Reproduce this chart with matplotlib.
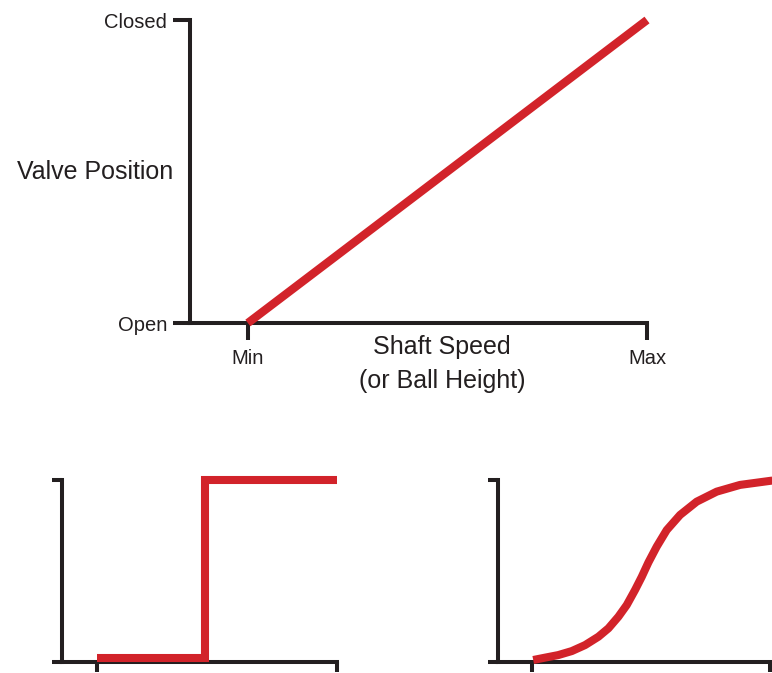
import matplotlib
matplotlib.use("Agg")
import matplotlib.pyplot as plt

plt.rcParams['font.family'] = ['Liberation Sans', 'DejaVu Sans']

# ---- data ----
y_tick_labels = ["Open", "Closed"]
x_tick_labels = ["Min", "Max"]
y_label = "Valve Position"
x_label_lines = ["Shaft Speed", "(or Ball Height)"]

# top panel: linear response
linear_x = [0.0, 1.0]
linear_y = [0.0, 1.0]

# bottom-left: step response
step_x = [0.0, 0.45, 0.45, 1.0]
step_y = [0.02, 0.02, 1.0, 1.0]

# bottom-right: S-shaped response
sig_x = [0.005, 0.055, 0.110, 0.167, 0.223, 0.279, 0.321, 0.363, 0.398, 0.433,
         0.461, 0.489, 0.524, 0.566, 0.622, 0.692, 0.776, 0.874, 1.01]
sig_y = [0.011, 0.024, 0.038, 0.060, 0.093, 0.139, 0.185, 0.249, 0.313, 0.396,
         0.468, 0.547, 0.634, 0.725, 0.808, 0.881, 0.936, 0.973, 0.997]

RED = "#D2232A"
INK = "#231F20"
W, H = 772, 673

fig = plt.figure(figsize=(W / 100, H / 100), dpi=100)


def px_axes(left, top, right, bottom):
    return fig.add_axes([left / W, 1 - bottom / H, (right - left) / W, (bottom - top) / H])


def style(ax, spine_w=2.9, tick_len=12, xlo=-0.145):
    for s in ("top", "right"):
        ax.spines[s].set_visible(False)
    for s in ("left", "bottom"):
        ax.spines[s].set_linewidth(spine_w)
        ax.spines[s].set_color(INK)
    ax.set_xlim(xlo, 1.0)
    ax.set_ylim(0.0, 1.0)
    ax.set_xticks([0, 1])
    ax.set_yticks([0, 1])
    ax.tick_params(axis="both", direction="out", length=tick_len, width=spine_w,
                   color=INK, labelcolor=INK)
    ax.patch.set_visible(False)


# ---- top panel ----
ax = px_axes(190, 20, 647, 323)
style(ax, tick_len=12.5, xlo=-0.145)
ax.set_xticklabels(x_tick_labels, fontsize=14.5)
ax.set_yticklabels(y_tick_labels, fontsize=14.5)
ax.tick_params(axis="x", pad=6)
ax.tick_params(axis="y", pad=4)
ax.plot(linear_x, linear_y, color=RED, lw=6.0, solid_capstyle="butt", clip_on=False, zorder=3)
for line, yy in zip(x_label_lines, [-0.080, -0.192]):
    ax.text(0.487, yy, line, transform=ax.get_xaxis_transform(), ha="center", va="center",
            fontsize=18, color=INK)
fig.text(17 / W, 1 - 172 / H, y_label, ha="left", va="center", fontsize=18, color=INK)

# ---- bottom-left: step ----
ax2 = px_axes(62, 480, 337, 662)
style(ax2, tick_len=7.5, xlo=-0.146)
ax2.set_xticklabels([])
ax2.set_yticklabels([])
ax2.plot(step_x, step_y, color=RED, lw=5.8, solid_capstyle="butt",
         solid_joinstyle="miter", clip_on=False, zorder=3)

# ---- bottom-right: S-curve ----
ax3 = px_axes(498, 480, 770, 662)
style(ax3, tick_len=7.5, xlo=-0.143)
ax3.set_xticklabels([])
ax3.set_yticklabels([])
ax3.plot(sig_x, sig_y, color=RED, lw=5.8, solid_capstyle="butt",
         solid_joinstyle="round", clip_on=False, zorder=3)

fig.savefig("out.png", dpi=100)
